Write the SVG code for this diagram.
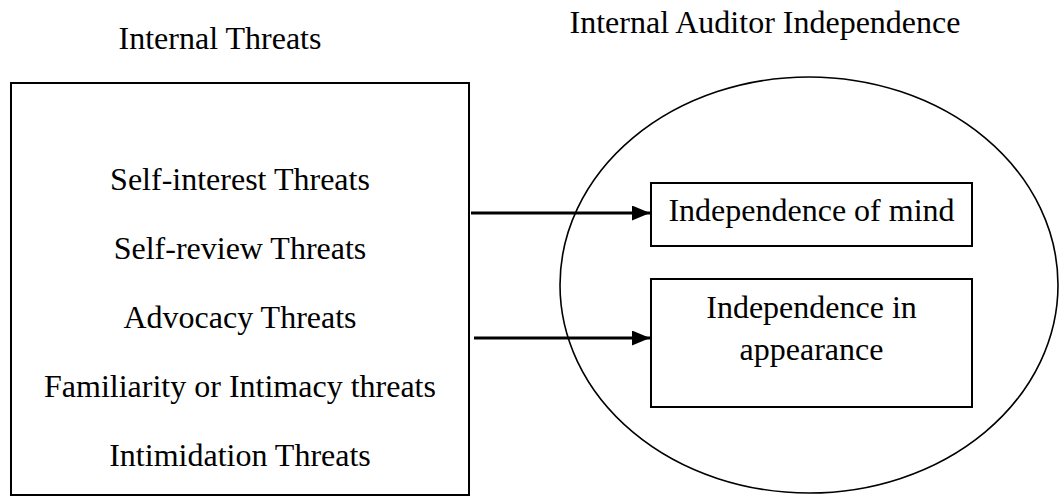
<svg xmlns="http://www.w3.org/2000/svg" width="1061" height="497" viewBox="0 0 1061 497">
<style>
text{font-family:"Liberation Serif","Times New Roman",serif;font-size:32px;fill:#000;text-anchor:middle}
.box{fill:#fff;stroke:#000;stroke-width:2}
.ell{fill:none;stroke:#000;stroke-width:1.6}
.conn{stroke:#000;stroke-width:2.8;fill:none}
</style>
<defs>
<marker id="arr" markerUnits="userSpaceOnUse" markerWidth="18" markerHeight="15" refX="18" refY="7.5" orient="auto">
<path d="M0,0 L18,7.5 L0,15 Z" fill="#000"/>
</marker>
</defs>
<g id="title-threats"><text x="220" y="49">Internal Threats</text></g>
<g id="title-independence"><text x="765" y="33">Internal Auditor Independence</text></g>
<g id="threats">
<rect class="box" x="11" y="83" width="458" height="412"/>
<text x="240" y="190">Self-interest Threats</text>
<text x="240" y="259">Self-review Threats</text>
<text x="240" y="328">Advocacy Threats</text>
<text x="240" y="397">Familiarity or Intimacy threats</text>
<text x="240" y="466">Intimidation Threats</text>
</g>
<g id="independence">
<ellipse class="ell" cx="809" cy="285" rx="249" ry="208"/>
</g>
<g id="mind">
<rect class="box" x="651" y="183" width="321" height="63"/>
<text x="811.5" y="221">Independence of mind</text>
</g>
<g id="appearance">
<rect class="box" x="651" y="279" width="321" height="128"/>
<text x="811.5" y="318">Independence in</text>
<text x="811.5" y="360">appearance</text>
</g>
<g id="connectors">
<line class="conn" x1="471" y1="213" x2="650" y2="213" marker-end="url(#arr)"/>
<line class="conn" x1="474" y1="338" x2="650" y2="338" marker-end="url(#arr)"/>
</g>
</svg>
